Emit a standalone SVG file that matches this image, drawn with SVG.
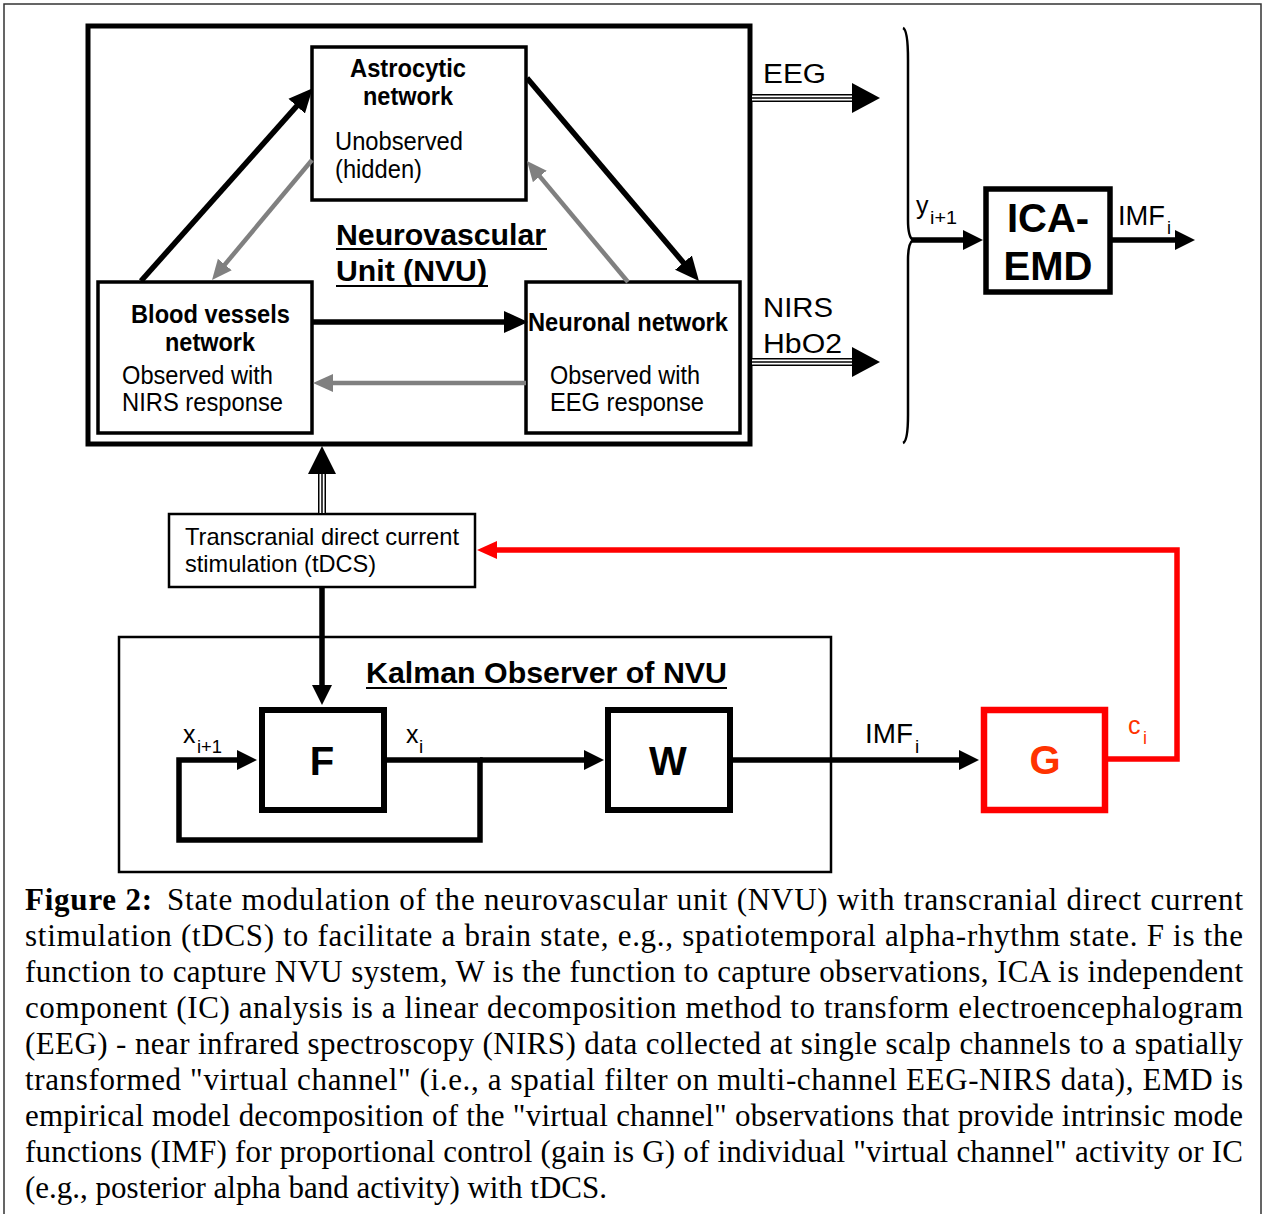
<svg xmlns="http://www.w3.org/2000/svg" width="1263" height="1214" viewBox="0 0 1263 1214">
<style>
.s{font-family:"Liberation Sans",Arial,sans-serif;fill:#000}
.b{font-weight:bold}
.cap{font-family:"Liberation Serif","Times New Roman",serif;font-size:31px;fill:#000}
.box{fill:#fff;stroke:#000}
.blk{fill:none;stroke:#000;stroke-width:5.5}
.gry{fill:none;stroke:#808080;stroke-width:4.5}
.red{fill:none;stroke:#ff0000;stroke-width:5.5}
.t1{fill:none;stroke:#000;stroke-width:8}
.t2{fill:none;stroke:#fff;stroke-width:5}
.t3{fill:none;stroke:#000;stroke-width:1.5}
.ul{stroke:#000;stroke-width:2.2}
</style>
<defs>
<marker id="mb" markerUnits="userSpaceOnUse" viewBox="0 0 20 20" markerWidth="20" markerHeight="20" refX="3" refY="10" orient="auto"><path d="M0,0 L20,10 L0,20 z" fill="#000"/></marker>
<marker id="mbl" markerUnits="userSpaceOnUse" viewBox="0 0 24 24" markerWidth="24" markerHeight="24" refX="3" refY="12" orient="auto"><path d="M0,1 L24,12 L0,23 z" fill="#000"/></marker>
<marker id="mg" markerUnits="userSpaceOnUse" viewBox="0 0 20 20" markerWidth="20" markerHeight="20" refX="3" refY="10" orient="auto"><path d="M0,1 L20,10 L0,19 z" fill="#808080"/></marker>
<marker id="mr" markerUnits="userSpaceOnUse" viewBox="0 0 20 20" markerWidth="20" markerHeight="20" refX="3" refY="10" orient="auto"><path d="M0,1 L20,10 L0,19 z" fill="#ff0000"/></marker>
</defs>
<rect width="1263" height="1214" fill="#fff"/>
<path d="M4,1216 V4 H1261 V1216" fill="none" stroke="#333" stroke-width="1.5"/>

<g id="nvu">
<rect class="box" x="88" y="26" width="662" height="418" stroke-width="5"/>
<text class="s b" x="336" y="245" font-size="30" textLength="210" lengthAdjust="spacingAndGlyphs">Neurovascular</text>
<line class="ul" x1="336" y1="249" x2="547" y2="249"/>
<text class="s b" x="336" y="281" font-size="30" textLength="151" lengthAdjust="spacingAndGlyphs">Unit (NVU)</text>
<line class="ul" x1="336" y1="286" x2="488" y2="286"/>
</g>

<g id="astro">
<rect class="box" x="312" y="47" width="214" height="153" stroke-width="3.5"/>
<text class="s b" x="350" y="77" font-size="25" textLength="116" lengthAdjust="spacingAndGlyphs">Astrocytic</text>
<text class="s b" x="363" y="105" font-size="25" textLength="90" lengthAdjust="spacingAndGlyphs">network</text>
<text class="s" x="335" y="150" font-size="25" textLength="128" lengthAdjust="spacingAndGlyphs">Unobserved</text>
<text class="s" x="335" y="178" font-size="25" textLength="87" lengthAdjust="spacingAndGlyphs">(hidden)</text>
</g>

<g id="blood">
<rect class="box" x="98" y="282" width="214" height="151" stroke-width="3.5"/>
<text class="s b" x="131" y="323" font-size="25" textLength="159" lengthAdjust="spacingAndGlyphs">Blood vessels</text>
<text class="s b" x="165" y="351" font-size="25" textLength="90" lengthAdjust="spacingAndGlyphs">network</text>
<text class="s" x="122" y="384" font-size="25" textLength="151" lengthAdjust="spacingAndGlyphs">Observed with</text>
<text class="s" x="122" y="411" font-size="25" textLength="161" lengthAdjust="spacingAndGlyphs">NIRS response</text>
</g>

<g id="neuronal">
<rect class="box" x="526" y="282" width="214" height="151" stroke-width="3.5"/>
<text class="s b" x="528" y="331" font-size="25" textLength="200" lengthAdjust="spacingAndGlyphs">Neuronal network</text>
<text class="s" x="550" y="384" font-size="25" textLength="150" lengthAdjust="spacingAndGlyphs">Observed with</text>
<text class="s" x="550" y="411" font-size="25" textLength="154" lengthAdjust="spacingAndGlyphs">EEG response</text>
</g>

<g id="icaemd">
<rect class="box" x="986" y="189" width="124" height="103" stroke-width="5.5"/>
<text class="s b" x="1048" y="232" font-size="40" text-anchor="middle">ICA-</text>
<text class="s b" x="1048" y="280" font-size="40" text-anchor="middle">EMD</text>
</g>

<g id="tdcs">
<rect class="box" x="169" y="514" width="306" height="73" stroke-width="2.5"/>
<text class="s" x="185" y="545" font-size="24" textLength="274" lengthAdjust="spacingAndGlyphs">Transcranial direct current</text>
<text class="s" x="185" y="572" font-size="24" textLength="191" lengthAdjust="spacingAndGlyphs">stimulation (tDCS)</text>
</g>

<g id="kalman">
<rect x="119" y="637" width="712" height="235" fill="none" stroke="#000" stroke-width="2.5"/>
<text class="s b" x="366" y="683" font-size="30" textLength="361" lengthAdjust="spacingAndGlyphs">Kalman Observer of NVU</text>
<line class="ul" x1="366" y1="688" x2="727" y2="688"/>
</g>

<g id="F">
<rect class="box" x="262" y="710" width="122" height="100" stroke-width="6"/>
<text class="s b" x="322" y="775" font-size="40" text-anchor="middle">F</text>
</g>

<g id="W">
<rect class="box" x="608" y="710" width="122" height="100" stroke-width="6"/>
<text class="s b" x="668" y="775" font-size="40" text-anchor="middle">W</text>
</g>

<g id="G">
<rect class="box" x="984" y="710" width="121" height="100" stroke-width="6.5" style="stroke:#ff0000"/>
<text class="s b" x="1045" y="774" font-size="40" text-anchor="middle" style="fill:#ff3300">G</text>
</g>

<g id="connectors">
<path class="blk" d="M141,281 L298.7,103.9" marker-end="url(#mbl)"/>
<path class="gry" d="M312,160 L222.9,266.9" marker-end="url(#mg)"/>
<path class="blk" d="M527,78 L685.4,265" marker-end="url(#mbl)"/>
<path class="gry" d="M628,282 L537.9,174.1" marker-end="url(#mg)"/>
<path class="blk" d="M313,322 H507" marker-end="url(#mbl)"/>
<path class="gry" d="M526,383 H330" marker-end="url(#mg)"/>

<path class="t1" d="M752,98 H854"/><path class="t2" d="M752,98 H854"/><path class="t3" d="M752,98 H854"/>
<polygon points="852,83 880,98 852,113" fill="#000"/>
<path class="t1" d="M752,362 H854"/><path class="t2" d="M752,362 H854"/><path class="t3" d="M752,362 H854"/>
<polygon points="852,347 880,362 852,377" fill="#000"/>
<path class="t1" d="M322,513 V472"/><path class="t2" d="M322,513 V472"/><path class="t3" d="M322,513 V472"/>
<polygon points="308,474 322,446 336,474" fill="#000"/>

<path d="M903,28 Q908,30 908,60 L908,220 Q908,237 913,240 Q908,243 908,260 L908,415 Q908,441 903,443" fill="none" stroke="#000" stroke-width="2.5"/>

<path class="blk" d="M912,240 H966" marker-end="url(#mb)"/>
<path class="blk" d="M1110,240 H1178" marker-end="url(#mb)"/>
<path class="blk" d="M322,587 V688" marker-end="url(#mb)"/>
<path class="blk" d="M384,760 H480 V840 H179 V760 H240" stroke-linejoin="miter" marker-end="url(#mb)"/>
<path class="blk" d="M480,760 H587" marker-end="url(#mb)"/>
<path class="blk" d="M730,760 H962" marker-end="url(#mb)"/>
<path class="red" d="M1108,759 H1177 V550 H494" stroke-linejoin="miter" marker-end="url(#mr)"/>

<text class="s" x="763" y="83" font-size="27" textLength="63" lengthAdjust="spacingAndGlyphs">EEG</text>
<text class="s" x="763" y="317" font-size="27" textLength="70" lengthAdjust="spacingAndGlyphs">NIRS</text>
<text class="s" x="763" y="353" font-size="27" textLength="79" lengthAdjust="spacingAndGlyphs">HbO2</text>
<text class="s" x="916" y="214" font-size="25">y</text>
<text class="s" x="930" y="224" font-size="19" textLength="27" lengthAdjust="spacingAndGlyphs">i+1</text>
<text class="s" x="1118" y="225" font-size="27" textLength="47" lengthAdjust="spacingAndGlyphs">IMF</text>
<text class="s" x="1167" y="234" font-size="18">i</text>
<text class="s" x="183" y="743" font-size="25">x</text>
<text class="s" x="197" y="753" font-size="19" textLength="25" lengthAdjust="spacingAndGlyphs">i+1</text>
<text class="s" x="406" y="743" font-size="25">x</text>
<text class="s" x="419" y="753" font-size="19">i</text>
<text class="s" x="865" y="743" font-size="28" textLength="48" lengthAdjust="spacingAndGlyphs">IMF</text>
<text class="s" x="915" y="753" font-size="19">i</text>
<text class="s" x="1128" y="734" font-size="25" style="fill:#ff3300">c</text>
<text class="s" x="1143" y="744" font-size="18" style="fill:#ff3300">i</text>
</g>

<g id="caption">
<text class="cap" x="25" y="910" font-weight="bold" textLength="127" lengthAdjust="spacing">Figure 2:</text>
<text class="cap" x="167" y="910" textLength="1076" lengthAdjust="spacing">State modulation of the neurovascular unit (NVU) with transcranial direct current</text>
<text class="cap" x="25" y="946" textLength="1218" lengthAdjust="spacing">stimulation (tDCS) to facilitate a brain state, e.g., spatiotemporal alpha-rhythm state. F is the</text>
<text class="cap" x="25" y="982" textLength="1218" lengthAdjust="spacing">function to capture NVU system, W is the function to capture observations, ICA is independent</text>
<text class="cap" x="25" y="1018" textLength="1218" lengthAdjust="spacing">component (IC) analysis is a linear decomposition method to transform electroencephalogram</text>
<text class="cap" x="25" y="1054" textLength="1218" lengthAdjust="spacing">(EEG) - near infrared spectroscopy (NIRS) data collected at single scalp channels to a spatially</text>
<text class="cap" x="25" y="1090" textLength="1218" lengthAdjust="spacing">transformed "virtual channel" (i.e., a spatial filter on multi-channel EEG-NIRS data), EMD is</text>
<text class="cap" x="25" y="1126" textLength="1218" lengthAdjust="spacing">empirical model decomposition of the "virtual channel" observations that provide intrinsic mode</text>
<text class="cap" x="25" y="1162" textLength="1218" lengthAdjust="spacing">functions (IMF) for proportional control (gain is G) of individual "virtual channel" activity or IC</text>
<text class="cap" x="25" y="1198">(e.g., posterior alpha band activity) with tDCS.</text>
</g>
</svg>
